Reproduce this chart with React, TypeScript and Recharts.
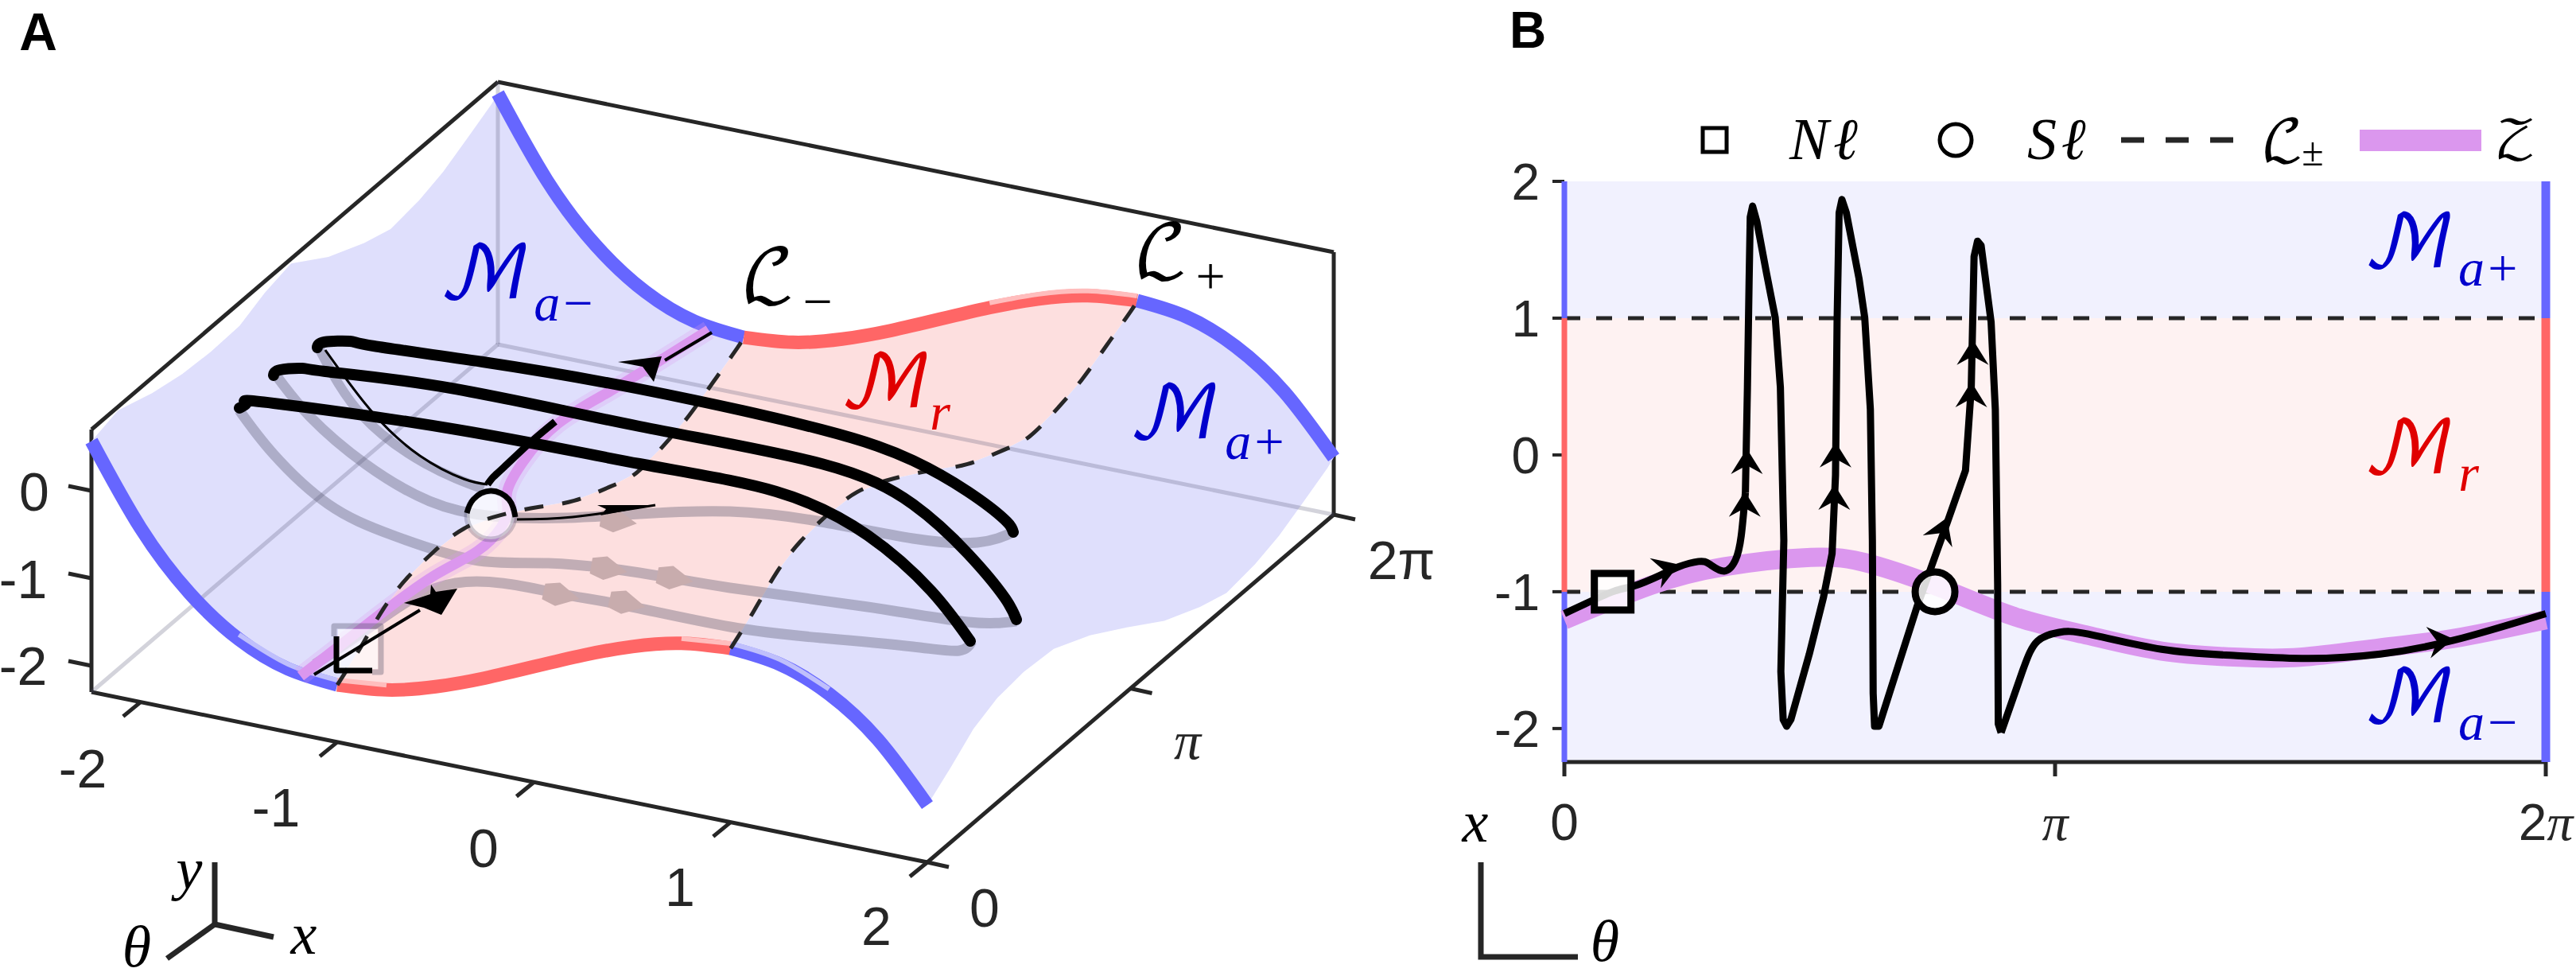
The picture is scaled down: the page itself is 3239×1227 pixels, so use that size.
import { ComposedChart, ReferenceArea, ReferenceLine, Scatter, XAxis, YAxis } from 'recharts'

const TWO_PI = 6.2832
const INK = '#262626'
const BLUE = '#6666ff'
const RED = '#ff6666'
const PALE_BLUE = '#bfbffc'
const PALE_RED = '#ffbdbd'
const PURPLE = '#db97ee'
const SHADE = 'rgba(80,80,103,0.35)'
const SANS = '"Liberation Sans", Arial, sans-serif'
const SERIF = '"Liberation Serif", serif'
const MATH = '"DejaVu Math TeX Gyre", "DejaVu Serif", "DejaVu Sans", serif'

// panel A: the sheet, read in model units (x, theta, y)
const edgeX = [-2.25, -2, -1.75, -1.5, -1.25, -1, -0.75, -0.5, -0.25, 0, 0.25, 0.5, 0.75, 1, 1.25, 1.5, 1.75, 2]
const edgeY = [0.567, -0.313, -0.944, -1.355, -1.579, -1.647, -1.589, -1.438, -1.225, -0.98, -0.735, -0.522, -0.371, -0.313, -0.381, -0.605, -1.016, -1.647]
const sheetTurn = [0, 0.057, 0.1135, 0.172, 0.237, 0.311, 0.4, 0.491, 0.583, 0.671, 0.736, 0.806, 0.865, 0.926, 0.984, 1]
const sheetShift = [0, 0.2, 0.42, 0.54, 0.58, 0.55, 0.35, 0.08, -0.21, -0.4, -0.5, -0.45, -0.36, -0.21, -0.06, 0]
const sheetLeftX = [-2.25, -2.233, -2.176, -2.144, -2.133, -2.14, -2.195, -2.25, -2.25, -2.25, -2.25, -2.25, -2.25, -2.25, -2.25, -2.25]
const SHEET_TOP = 0.7

// panel A: orbit traces
const upperOne = [[399, 437], [408, 430], [440, 429], [470, 435], [607, 455], [804, 489], [1033, 540], [1148, 579], [1217, 618], [1263, 653], [1274, 669]]
const upperTwo = [[344, 472], [352, 465], [380, 463], [409, 467], [567, 488], [804, 536], [1033, 583], [1148, 634], [1217, 696], [1263, 751], [1278, 779]]
const upperThree = [[301, 513], [309, 506], [344, 507], [574, 540], [804, 583], [976, 618], [1091, 673], [1171, 743], [1220, 806]]
const shadeOne = [[402, 440], [455, 522], [535, 583], [608, 615]]
const shadeTwo = [[348, 473], [390, 524], [459, 583], [540, 630], [620, 649], [712, 651], [804, 646], [918, 643], [1033, 656], [1148, 677], [1229, 682], [1274, 669]]
const shadeThree = [[301, 516], [344, 571], [413, 634], [494, 673], [597, 704], [689, 708], [804, 720], [918, 739], [1091, 763], [1217, 782], [1278, 781]]
const shadeFour = [[396, 835], [470, 785], [573, 733], [697, 745], [780, 760], [918, 788], [1033, 802], [1148, 813], [1206, 818], [1222, 806]]
const thinDrop = [[409, 440], [468, 518], [528, 573], [583, 602], [613, 609]]
const thickRise = [[613, 609], [620, 600], [634, 587], [666, 557], [698, 530]]
const thinTop = [[836, 453], [895, 418]]
const thinSide = [[650, 653], [720, 650], [824, 635]]
const thinLow = [[395, 848], [528, 767]]
const zeroSet = [[378, 850], [477, 773], [547, 723], [600, 693], [630, 663], [638, 640], [638, 617], [658, 580], [701, 533], [765, 493], [824, 457], [891, 415]]
const squareDark = [[423, 800], [423, 843], [468, 843]]
const squarePale = [[420, 800], [420, 787], [479, 787], [479, 845], [468, 845]]
const circleDark = [[587, 645], [595, 628], [617, 617], [640, 628], [648, 650]]
const arrowLow = [[508, 758], [541, 747], [542, 735], [548, 744], [575, 740], [555, 773], [533, 764]]
const arrowTop = [[777, 455], [832, 448], [822, 480], [808, 461]]
const arrowSide = [[751, 635], [824, 635], [755, 648], [762, 640]]
const ghostU = [777, 765, 848, 705, 788]
const ghostV = [655, 715, 727, 748, 758]
const ghostAngle = [8, 10, 10, 12, 12]

const boxFrontLines = [
  [[-2.25, 0, -2.3], [2, 0, -2.3]],
  [[2, 0, -2.3], [2, TWO_PI, -2.3]],
  [[2, TWO_PI, -2.3], [2, TWO_PI, 0.7]],
  [[2, TWO_PI, 0.7], [-2.25, TWO_PI, 0.7]],
  [[-2.25, TWO_PI, 0.7], [-2.25, 0, 0.7]],
  [[-2.25, 0, 0.7], [-2.25, 0, -2.3]],
]
const boxBackLines = [
  [[-2.25, TWO_PI, -2.3], [-2.25, TWO_PI, 0.7]],
  [[-2.25, TWO_PI, -2.3], [-2.25, 0, -2.3]],
  [[-2.25, TWO_PI, -2.3], [2, TWO_PI, -2.3]],
]
const xTicks3d = [-2, -1, 0, 1, 2]
const thetaTicks3d = [0, 3.1416, TWO_PI]
const yTicks3d = [-2, -1, 0]
const xTickText = [[104, 966, '-2'], [347, 1015, '-1'], [608, 1066, '0'], [855, 1115, '1'], [1102, 1164, '2']]
const yTickText = [[43, 618, '0'], [29, 728, '-1'], [29, 837, '-2']]
const thetaTickU = [1238, 1493, 1762]
const thetaTickV = [1141, 931, 704]
const mathA = [
  [610, 348, 'ℳ', '#0000cc'], [1114, 485, 'ℳ', '#e00000'], [1477, 524, 'ℳ', '#0000cc'],
  [966, 352, 'ℒ', '#000'], [1460, 321, 'ℒ', '#000'],
]
const subA = [
  [710, 380, 'a−', '#0000cc'], [1182, 517, 'r', '#e00000'], [1579, 554, 'a+', '#0000cc'],
  [1028, 378, '−', '#000'], [1522, 346, '+', '#000'],
]
const axisWordsA = [[238, 1092, 'y'], [382, 1174, 'x'], [172, 1190, 'θ']]

// panel B: theta and x
const zeroTheta = [0, 0.55, 1.018, 1.578, 1.953, 2.421, 2.888, 3.355, 3.824, 4.287, 4.71, 5.224, 5.693, 6.283]
const zeroValue = [-1.206, -0.955, -0.818, -0.749, -0.795, -0.977, -1.184, -1.32, -1.434, -1.478, -1.479, -1.41, -1.342, -1.206]
const startTheta = [0, 0.309, 0.441, 0.623, 0.732, 0.859, 0.932, 1.023, 1.095, 1.132, 1.159]
const startValue = [-1.16, -1.0, -0.96, -0.875, -0.817, -0.779, -0.8, -0.849, -0.769, -0.593, -0.274]
const spikeTheta = [1.159, 1.172, 1.183, 1.19, 1.205, 1.232, 1.295, 1.35, 1.383, 1.405, 1.386, 1.401, 1.423, 1.45, 1.568, 1.659, 1.714, 1.736, 1.746, 1.759, 1.777, 1.805, 1.886, 1.923, 1.959, 1.972, 1.977, 1.986, 2.014, 2.259, 2.45, 2.568, 2.605, 2.623, 2.645, 2.668, 2.732, 2.759, 2.774, 2.778, 2.796]
const spikeValue = [-0.274, 0.493, 1.292, 1.739, 1.819, 1.707, 1.324, 1.004, 0.493, -0.625, -1.584, -1.935, -1.983, -1.935, -1.456, -1.041, -0.721, -0.146, 0.972, 1.771, 1.867, 1.771, 1.292, 1.004, 0.333, -0.625, -1.744, -1.983, -1.983, -1.105, -0.498, -0.114, 0.493, 1.451, 1.563, 1.531, 0.972, 0.333, -0.945, -1.967, -2.03]
const tailTheta = [2.796, 2.932, 3.03, 3.167, 3.355, 3.824, 4.287, 4.756, 5.224, 5.693, 6.283]
const tailValue = [-2.03, -1.584, -1.36, -1.297, -1.31, -1.421, -1.466, -1.488, -1.456, -1.355, -1.16]
const arrowTheta = [0.735, 1.168, 1.155, 1.736, 1.728, 2.614, 2.605, 2.45, 5.693]
const arrowValue = [-0.801, 0.046, -0.267, 0.094, -0.216, 0.844, 0.534, -0.459, -1.345]
const arrowAngle = [-20, -90, -90, -90, -90, -90, -90, -68, -8]
const BOTTOM = -2.245
const yTicksB = [-2, -1, 0, 1, 2]
const thetaTicksB = [0, 3.1416, TWO_PI]
const mathB = [[5.41, 1.53, 'ℳ', '#0000cc'], [5.41, 0.02, 'ℳ', '#e00000'], [5.41, -1.8, 'ℳ', '#0000cc']]
const subB = [[5.92, 1.37, 'a+', '#0000cc'], [5.79, -0.13, 'r', '#e00000'], [5.92, -1.95, 'a−', '#0000cc']]
const legendWords = ['Nℓ', 'Sℓ', 'ℒ', '𝒵']

const project = ([x, theta, y]: number[]) => ({
  u: 115 + (x + 2.25) * 247.3 + (theta / TWO_PI) * 511,
  v: 870 + (x + 2.25) * 50.35 - (theta / TWO_PI) * 437 - (y + 2.3) * 110,
})
const pts = (list: number[][]) => list.map(([u, v]) => ({ u, v }))
const line3d = (list: number[][]) => list.map(project)
const zip = (ts: number[], xs: number[]) => ts.map((t, i) => ({ t, x: xs[i] }))

const edgeRun = (from: number, to: number, theta: number) =>
  edgeX.map((x, i) => [x, theta, edgeY[i]]).filter(([x]) => x >= from && x <= to)
const foldRun = (x: number) => {
  const base = edgeY[edgeX.indexOf(x)]
  return sheetTurn.map((t, i) => [x, t * TWO_PI, base + sheetShift[i]])
}
const leftRun = sheetTurn.map((t, i) => [sheetLeftX[i], t * TWO_PI, Math.min(SHEET_TOP, edgeY[0] + sheetShift[i])])
const innerEdge = (from: number, to: number, theta: number) =>
  line3d(edgeRun(from, to, theta)).map((p) => ({ u: p.u, v: p.v - 6 }))

const sheetLeft = line3d([...edgeRun(-2.25, -1, 0), ...foldRun(-1), ...edgeRun(-2.25, -1, TWO_PI).reverse(), ...[...leftRun].reverse()])
const sheetMiddle = line3d([...edgeRun(-1, 1, 0), ...foldRun(1), ...edgeRun(-1, 1, TWO_PI).reverse(), ...foldRun(-1).reverse()])
const sheetRight = line3d([...edgeRun(1, 2, 0), ...foldRun(2), ...edgeRun(1, 2, TWO_PI).reverse(), ...foldRun(1).reverse()])

const NoDot = () => <g />

function Path({ data, stroke, width, curve = 'linear', fill, dash, cap }: any) {
  return (
    <Scatter
      data={data}
      shape={NoDot}
      isAnimationActive={false}
      lineJointType={curve}
      line={{
        stroke,
        strokeWidth: width,
        fill: fill || 'none',
        strokeLinejoin: 'round',
        strokeLinecap: cap || 'butt',
        ...(dash ? { strokeDasharray: dash } : {}),
      }}
    />
  )
}

const textMark = (style: any) => ({ cx, cy, payload }: any) => (
  <text x={cx} y={cy} textAnchor="middle" dominantBaseline="central" {...style}>
    {payload.text}
  </text>
)

function Labels({ data, ...style }: any) {
  return <Scatter data={data} shape={textMark(style)} isAnimationActive={false} />
}

const outlineMark = (fill: string) => ({ payload }: any) => (
  <polygon points={payload.outline} fill={fill} />
)
function Outline({ list, fill }: any) {
  return (
    <Scatter
      data={[{ u: list[0][0], v: list[0][1], outline: list.map((p: number[]) => p.join(',')).join(' ') }]}
      shape={outlineMark(fill)}
      isAnimationActive={false}
    />
  )
}

const ghostMark = ({ cx, cy, payload }: any) => (
  <polygon
    points="24,0 -4,-15 -22,-10 -22,10 -4,15"
    fill="#c8acad"
    transform={`translate(${cx} ${cy}) rotate(${payload.angle})`}
  />
)
const arrowMark = ({ cx, cy, payload }: any) => (
  <polygon points="0,0 -32,-20 -21,0 -32,20" fill="#000" transform={`translate(${cx} ${cy}) rotate(${payload.angle})`} />
)
const squareMark = ({ cx, cy }: any) => (
  <rect x={cx - 23} y={cy - 23} width={46} height={46} fill="rgba(255,255,255,0.85)" stroke="#000" strokeWidth={9} />
)
const circleMark = ({ cx, cy }: any) => (
  <circle cx={cx} cy={cy} r={25} fill="rgba(255,255,255,0.85)" stroke="#000" strokeWidth={9} />
)
const paleSquare = ({ cx, cy }: any) => <rect x={cx - 25} y={cy - 25} width={50} height={50} fill="rgba(255,255,255,0.65)" />
const paleCircle = ({ cx, cy }: any) => (
  <circle cx={cx} cy={cy} r={30} fill="rgba(255,255,255,0.7)" stroke="rgba(80,80,103,0.28)" strokeWidth={7} />
)

const piText = ({ x, y, payload }: any) => {
  const v = payload.value
  return (
    <text x={x} y={y + 78} textAnchor="middle" fill={INK} fontSize={64} fontFamily={SANS}>
      {v === 0 ? '0' : v < 4 ? '' : '2'}
      {v > 0 && <tspan fontFamily={SERIF} fontStyle="italic" fontSize={66}>π</tspan>}
    </text>
  )
}

function PanelA() {
  const ticks: any[] = []
  xTicks3d.forEach((x) => {
    const a = project([x, 0, -2.3])
    ticks.push([a, { u: a.u - 22, v: a.v + 18 }])
  })
  thetaTicks3d.forEach((t) => {
    const a = project([2, t, -2.3])
    ticks.push([a, { u: a.u + 27, v: a.v + 6 }])
  })
  yTicks3d.forEach((y) => {
    const a = project([-2.25, 0, y])
    ticks.push([a, { u: a.u - 29, v: a.v - 6 }])
  })

  return (
    <ComposedChart width={1900} height={1227} margin={{ top: 0, right: 0, bottom: 0, left: 0 }}>
      <XAxis dataKey="u" type="number" domain={[0, 1900]} hide />
      <YAxis dataKey="v" type="number" domain={[0, 1227]} reversed hide />

      {boxFrontLines.map((l, i) => (
        <Path key={i} data={line3d(l)} stroke={INK} width={5} />
      ))}
      {ticks.map((l, i) => (
        <Path key={i} data={l} stroke={INK} width={5} />
      ))}

      <Path data={sheetLeft} stroke="none" width={0} fill="#dfdffc" />
      <Path data={sheetMiddle} stroke="none" width={0} fill="#fddfdf" />
      <Path data={sheetRight} stroke="none" width={0} fill="#dfdffc" />

      {boxBackLines.map((l, i) => (
        <Path key={i} data={line3d(l)} stroke="rgba(80,80,110,0.25)" width={5} />
      ))}

      <Path data={pts(shadeOne)} stroke={SHADE} width={12} curve="natural" />
      <Path data={pts(shadeTwo)} stroke={SHADE} width={13} curve="natural" />
      <Path data={pts(shadeThree)} stroke={SHADE} width={13} curve="natural" />
      <Path data={pts(shadeFour)} stroke={SHADE} width={13} curve="natural" />
      <Scatter data={ghostU.map((u, i) => ({ u, v: ghostV[i], angle: ghostAngle[i] }))} shape={ghostMark} isAnimationActive={false} />

      <Path data={line3d(edgeRun(-2.25, -1, 0))} stroke={BLUE} width={17} curve="natural" />
      <Path data={line3d(edgeRun(-1, 1, 0))} stroke={RED} width={17} curve="natural" />
      <Path data={line3d(edgeRun(1, 2, 0))} stroke={BLUE} width={17} curve="natural" />
      <Path data={line3d(edgeRun(-2.25, -1, TWO_PI))} stroke={BLUE} width={17} curve="natural" />
      <Path data={line3d(edgeRun(-1, 1, TWO_PI))} stroke={RED} width={17} curve="natural" />
      <Path data={line3d(edgeRun(1, 2, TWO_PI))} stroke={BLUE} width={17} curve="natural" />
      <Path data={innerEdge(-1.5, -1, 0)} stroke={PALE_BLUE} width={6} curve="natural" />
      <Path data={innerEdge(-1, -0.75, 0)} stroke={PALE_RED} width={6} curve="natural" />
      <Path data={innerEdge(0.75, 1, 0)} stroke={PALE_RED} width={6} curve="natural" />
      <Path data={innerEdge(1, 1.5, 0)} stroke={PALE_BLUE} width={6} curve="natural" />
      <Path data={innerEdge(0.25, 1, TWO_PI)} stroke={PALE_RED} width={6} curve="natural" />

      <Path data={pts(zeroSet)} stroke="rgba(219,151,238,0.25)" width={24} curve="natural" />
      <Path data={pts(zeroSet)} stroke={PURPLE} width={13} curve="natural" />

      <Scatter data={[{ u: 450, v: 816 }]} shape={paleSquare} isAnimationActive={false} />
      <Path data={pts(squarePale)} stroke={SHADE} width={7} />
      <Scatter data={[{ u: 617, v: 648 }]} shape={paleCircle} isAnimationActive={false} />

      <Path data={line3d(foldRun(-1))} stroke={INK} width={5} curve="natural" dash="24 24" />
      <Path data={line3d(foldRun(1))} stroke={INK} width={5} curve="natural" dash="24 24" />

      <Path data={pts(thinDrop)} stroke="#000" width={3} curve="natural" />
      <Path data={pts(thinTop)} stroke="#000" width={4} />
      <Path data={pts(thinSide)} stroke="#000" width={3} curve="natural" />
      <Path data={pts(thinLow)} stroke="#000" width={4} />
      <Path data={pts(thickRise)} stroke="#000" width={9} curve="natural" />
      <Path data={pts(upperOne)} stroke="#000" width={14} curve="natural" cap="round" />
      <Path data={pts(upperTwo)} stroke="#000" width={14} curve="natural" cap="round" />
      <Path data={pts(upperThree)} stroke="#000" width={14} curve="natural" cap="round" />
      <Path data={pts(squareDark)} stroke="#000" width={7} />
      <Path data={pts(circleDark)} stroke="#000" width={7} curve="natural" />
      <Outline list={arrowLow} fill="#000" />
      <Outline list={arrowTop} fill="#000" />
      <Outline list={arrowSide} fill="#000" />

      <Labels data={xTickText.map(([u, v, text]) => ({ u, v, text }))} fontFamily={SANS} fontSize={68} fill={INK} />
      <Labels data={yTickText.map(([u, v, text]) => ({ u, v, text }))} fontFamily={SANS} fontSize={68} fill={INK} />
      <Labels data={[{ u: thetaTickU[0], v: thetaTickV[0], text: '0' }]} fontFamily={SANS} fontSize={68} fill={INK} />
      <Labels data={[{ u: thetaTickU[1], v: thetaTickV[1], text: 'π' }]} fontFamily={SERIF} fontStyle="italic" fontSize={68} fill={INK} />
      <Labels data={[{ u: thetaTickU[2], v: thetaTickV[2], text: '2π' }]} fontFamily={SANS} fontSize={68} fill={INK} />
      <Labels data={[{ u: 48, v: 40, text: 'A' }]} fontFamily={SANS} fontWeight={700} fontSize={66} fill="#000" />

      {mathA.map(([u, v, text, fill]: any, i) => (
        <Labels key={i} data={[{ u, v, text }]} fontFamily={MATH} fontSize={92} fill={fill} />
      ))}
      {subA.map(([u, v, text, fill]: any, i) => (
        <Labels key={i} data={[{ u, v, text }]} fontFamily={SERIF} fontStyle={text === 'r' || text[0] === 'a' ? 'italic' : 'normal'} fontSize={66} fill={fill} />
      ))}

      <Path data={[{ u: 270, v: 1084 }, { u: 270, v: 1162 }]} stroke={INK} width={7} />
      <Path data={[{ u: 270, v: 1162 }, { u: 344, v: 1178 }]} stroke={INK} width={7} />
      <Path data={[{ u: 270, v: 1162 }, { u: 210, v: 1205 }]} stroke={INK} width={7} />
      <Labels data={axisWordsA.map(([u, v, text]) => ({ u, v, text }))} fontFamily={SERIF} fontStyle="italic" fontSize={74} fill="#000" />
    </ComposedChart>
  )
}

function PanelB() {
  const band = (y1: number, y2: number, fill: string) => (
    <ReferenceArea x1={0} x2={TWO_PI} y1={y1} y2={y2} fill={fill} fillOpacity={1} stroke="none" />
  )
  const arrows = arrowTheta.map((t, i) => ({ t, x: arrowValue[i], angle: arrowAngle[i] }))
  const side = (t: number, a: number, b: number, color: string, width: number) => (
    <Path data={[{ t, x: a }, { t, x: b }]} stroke={color} width={width} />
  )
  return (
    <ComposedChart width={1439} height={1227} margin={{ top: 228, right: 38, bottom: 0, left: 0 }}>
      <XAxis
        dataKey="t"
        type="number"
        domain={[0, TWO_PI]}
        ticks={thetaTicksB}
        height={269}
        tickSize={18}
        tick={piText}
        stroke={INK}
        strokeWidth={5}
        interval={0}
      />
      <YAxis
        dataKey="x"
        type="number"
        domain={[BOTTOM, 2]}
        ticks={yTicksB}
        width={167}
        tickSize={15}
        tickMargin={16}
        tick={{ fontSize: 64, fontFamily: SANS, fill: INK }}
        stroke={INK}
        strokeWidth={4}
        interval={0}
      />
      {band(1, 2, '#f1f1fe')}
      {band(-1, 1, '#fef2f2')}
      {band(BOTTOM, -1, '#f1f1fe')}

      {side(0, 1, 2, BLUE, 7)}
      {side(0, -1, 1, RED, 7)}
      {side(0, BOTTOM, -1, BLUE, 7)}
      {side(TWO_PI, 1, 2, BLUE, 11)}
      {side(TWO_PI, -1, 1, RED, 11)}
      {side(TWO_PI, BOTTOM, -1, BLUE, 11)}

      <ReferenceLine y={1} stroke={INK} strokeWidth={5} strokeDasharray="20 20" />
      <ReferenceLine y={-1} stroke={INK} strokeWidth={5} strokeDasharray="20 20" />

      <Path data={zip(zeroTheta, zeroValue)} stroke={PURPLE} width={24} curve="natural" />
      <Path data={zip(startTheta, startValue)} stroke="#000" width={9} curve="natural" />
      <Path data={zip(spikeTheta, spikeValue)} stroke="#000" width={9} />
      <Path data={zip(tailTheta, tailValue)} stroke="#000" width={9} curve="natural" />
      <Scatter data={arrows} shape={arrowMark} isAnimationActive={false} />
      <Scatter data={[{ t: 0.309, x: -1 }]} shape={squareMark} isAnimationActive={false} />
      <Scatter data={[{ t: 2.373, x: -1 }]} shape={circleMark} isAnimationActive={false} />

      {mathB.map(([t, x, text, fill]: any, i) => (
        <Labels key={i} data={[{ t, x, text }]} fontFamily={MATH} fontSize={92} fill={fill} />
      ))}
      {subB.map(([t, x, text, fill]: any, i) => (
        <Labels key={i} data={[{ t, x, text }]} fontFamily={SERIF} fontStyle="italic" fontSize={66} fill={fill} />
      ))}
    </ComposedChart>
  )
}

function Overlay() {
  return (
    <svg width={3239} height={1227} style={{ position: 'absolute', left: 0, top: 0, pointerEvents: 'none' }}>
      <text x={1921} y={60} textAnchor="middle" fontFamily={SANS} fontWeight={700} fontSize={64}>B</text>
      <rect x={2141} y={161} width={30} height={30} fill="none" stroke="#000" strokeWidth={5} />
      <text x={2296} y={200} textAnchor="middle" fontFamily={SERIF} fontStyle="italic" fontSize={74} letterSpacing={6}>{legendWords[0]}</text>
      <circle cx={2459} cy={176} r={20} fill="none" stroke="#000" strokeWidth={5} />
      <text x={2589} y={200} textAnchor="middle" fontFamily={SERIF} fontStyle="italic" fontSize={74} letterSpacing={6}>{legendWords[1]}</text>
      <line x1={2667} x2={2809} y1={176} y2={176} stroke={INK} strokeWidth={7} strokeDasharray="29 27" />
      <text x={2870} y={202} textAnchor="middle" fontFamily={MATH} fontSize={72}>{legendWords[2]}</text>
      <text x={2908} y={208} textAnchor="middle" fontFamily={SERIF} fontSize={50}>±</text>
      <rect x={2967} y={163} width={153} height={27} fill={PURPLE} />
      <text x={3163} y={198} textAnchor="middle" fontFamily={MATH} fontSize={66}>{legendWords[3]}</text>

      <text x={1855} y={1058} textAnchor="middle" fontFamily={SERIF} fontStyle="italic" fontSize={74}>x</text>
      <text x={2018} y={1208} textAnchor="middle" fontFamily={SERIF} fontStyle="italic" fontSize={74}>θ</text>
      <polyline points="1862,1084 1862,1203 1984,1203" fill="none" stroke={INK} strokeWidth={7} />
    </svg>
  )
}

export default function App() {
  return (
    <div style={{ position: 'absolute', left: 0, top: 0, width: 3239, height: 1227, background: '#fff', overflow: 'hidden' }}>
      <div style={{ position: 'absolute', left: 0, top: 0 }}>
        <PanelA />
      </div>
      <div style={{ position: 'absolute', left: 1800, top: 0 }}>
        <PanelB />
      </div>
      <Overlay />
    </div>
  )
}
